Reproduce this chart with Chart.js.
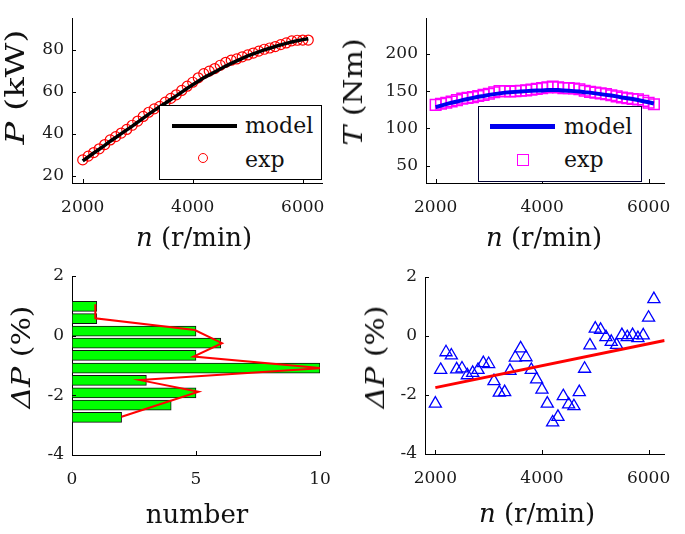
<!DOCTYPE html>
<html>
<head>
<meta charset="utf-8">
<script src="https://cdn.jsdelivr.net/npm/chart.js@4.4.0/dist/chart.umd.min.js"></script>
<style>
html, body { margin: 0; padding: 0; background: #fff; }
#wrap { position: relative; width: 685px; height: 534px; overflow: hidden; font-family: 'DejaVu Serif', serif; color: #111; }
#wrap canvas { position: absolute; left: 0; top: 0; }
.t { position: absolute; white-space: nowrap; font-size: 26px; line-height: 1; transform: translate(-50%, -50%); }
.ty { transform: translate(-50%, -50%) rotate(-90deg) scaleX(1.15); }
.leg { position: absolute; background: #fff; border: 1px solid #000; box-sizing: border-box; }
.lt { position: absolute; font-size: 22px; line-height: 1; transform: translateY(-50%); white-space: nowrap; }
</style>
</head>
<body>
<div id="wrap">
  <canvas id="cP" width="685" height="534"></canvas>
  <canvas id="cT" width="685" height="534"></canvas>
  <canvas id="cH" width="685" height="534"></canvas>
  <canvas id="cD" width="685" height="534"></canvas>

  <div class="t" style="left:194px; top:237px;"><i>n</i> (r/min)</div>
  <div class="t" style="left:544px; top:237px;"><i>n</i> (r/min)</div>
  <div class="t" style="left:197px; top:514px;">number</div>
  <div class="t" style="left:537px; top:513px;"><i>n</i> (r/min)</div>
  <div class="t ty" style="left:15px; top:87px; transform: translate(-50%, -50%) rotate(-90deg) scaleX(1.3);"><i>P</i> (kW)</div>
  <div class="t ty" style="left:353px; top:92px;"><i>T</i> (Nm)</div>
  <div class="t ty" style="left:21px; top:357px;"><i>ΔP</i> (%)</div>
  <div class="t ty" style="left:375px; top:357px;"><i>ΔP</i> (%)</div>

  <!-- legenda P -->
  <div class="leg" style="left:159px; top:105px; width:163px; height:75px;"></div>
  <div style="position:absolute; left:172px; top:124px; width:65px; height:4px; background:#000;"></div>
  <div class="lt" style="left:245px; top:126px;">model</div>
  <div style="position:absolute; left:198px; top:153px; width:8px; height:8px; border:1.2px solid #f00; border-radius:50%;"></div>
  <div class="lt" style="left:245px; top:160px;">exp</div>

  <!-- legenda T -->
  <div class="leg" style="left:478px; top:106px; width:164px; height:76px; border-color:#000033;"></div>
  <div style="position:absolute; left:490px; top:124px; width:65px; height:5px; background:#0000ee;"></div>
  <div class="lt" style="left:564px; top:127px;">model</div>
  <div style="position:absolute; left:517px; top:154px; width:10px; height:10px; border:1.5px solid #f0f;"></div>
  <div class="lt" style="left:564px; top:160px;">exp</div>
</div>

<script>
// rotação (r/min) dos pontos experimentais
const speedRpm = [2000, 2100, 2200, 2300, 2400, 2500, 2600, 2700, 2800, 2900,
                  3000, 3100, 3200, 3300, 3400, 3500, 3600, 3700, 3800, 3900,
                  4000, 4100, 4200, 4300, 4400, 4500, 4600, 4700, 4800, 4900,
                  5000, 5100, 5200, 5300, 5400, 5500, 5600, 5700, 5800, 5900,
                  6000, 6100];

// potência (kW)
const powerExp = [27.5, 29.3, 31.0, 32.8, 34.8, 37.0, 38.6, 40.3, 42.0, 44.0,
                  46.0, 48.2, 50.2, 51.8, 53.0, 55.0, 56.8, 58.5, 60.6, 62.6,
                  64.5, 66.6, 68.6, 69.8, 71.0, 72.6, 74.0, 75.0, 75.6, 76.6,
                  77.5, 78.4, 79.3, 80.2, 80.8, 81.5, 82.4, 83.2, 84.2, 84.5,
                  84.6, 84.6];
const powerModel = [27.0, 28.9, 30.8, 32.6, 34.4, 36.4, 38.2, 40.0, 41.8, 43.6,
                    45.5, 47.4, 49.3, 51.1, 52.8, 54.5, 56.3, 58.0, 59.8, 61.6,
                    63.3, 65.0, 66.6, 68.0, 69.4, 70.8, 72.2, 73.5, 74.7, 75.9,
                    77.0, 78.0, 79.0, 79.9, 80.7, 81.5, 82.3, 83.0, 83.7, 84.3,
                    84.8, 85.2];

// torque (Nm)
const torqueExp = [131.5, 133, 134.5, 136, 138, 140, 141, 142, 143.5, 145,
                   146.5, 148.5, 150, 150, 149.5, 150, 150.5, 151, 152, 153,
                   154, 155, 156, 155, 154, 154, 153.5, 152.5, 150.5, 149,
                   148, 147, 146, 144.5, 143, 141.5, 140.5, 139.5, 139, 137,
                   134.5, 132.5];
const torqueModel = [128.5, 130.5, 132.5, 134.5, 136, 138, 139.5, 141, 142.5, 143.5,
                     145, 146, 147, 148, 148.5, 149, 149.5, 150, 150.5, 151,
                     151, 151.5, 151.5, 151.5, 151, 150.5, 150, 149.5, 148.5, 148,
                     147, 146, 145, 144, 143, 141.5, 140.5, 139.5, 138, 136.5,
                     135, 133.5];

// erro relativo da potência (%)
const deltaP = [-2.29, -1.15, -0.55, -0.66, -1.13, -1.10, -1.33, -1.25, -1.15, -0.92,
                -0.95, -1.53, -1.92, -1.90, -1.18, -0.73, -0.42, -0.72, -1.15, -1.47,
                -1.82, -2.29, -2.93, -2.74, -2.04, -2.32, -2.38, -1.90, -1.11, -0.32,
                0.25, 0.21, -0.04, -0.20, -0.30, 0.03, -0.04, 0.03, -0.07, 0.02,
                0.62, 1.25];

// histograma do erro
const binCenters = [0.98, 0.57, 0.15, -0.25, -0.66, -1.09, -1.50, -1.92, -2.33, -2.74];
const binCounts = [1, 1, 5, 6, 5, 10, 3, 5, 4, 2];
const curveCounts = [0.94, 0.94, 4.95, 6.05, 4.9, 10.05, 2.75, 5.1, 2.0];
const curveVals = [1.05, 0.58, 0.19, -0.25, -0.70, -1.09, -1.49, -1.88, -2.72];

// reta de tendência do erro
const fitRpm = [2000, 6300];
const fitDelta = [-1.75, -0.15];

// rótulos dos eixos
const rpmTicks = [2000, 4000, 6000];
const powerTicks = [20, 40, 60, 80];
const torqueTicks = [50, 100, 150, 200];
const countTicks = [0, 5, 10];
const deltaTicks = [-4, -2, 0, 2];

const AX_W = 60, AX_H = 40;
const tickFont = { family: 'DejaVu Serif', size: 17 };

// monta pares {x, y}
function pts(xs, ys) {
    return xs.map((x, i) => ({ x: x, y: ys[i] }));
}

// posição da área do gráfico dentro do canvas
function pad(left, top, right, bottom) {
    return { left: left - AX_W, top: top, right: 685 - right, bottom: 534 - bottom - AX_H };
}

// marcas dos ticks para dentro (estilo MATLAB)
const inwardTicks = {
    id: 'inwardTicks',
    afterDraw(chart) {
        const ctx = chart.ctx, a = chart.chartArea;
        const xs = chart.scales.x, ys = chart.scales.y;
        ctx.save();
        ctx.strokeStyle = '#000';
        ctx.lineWidth = 1;
        xs.ticks.forEach(t => {
            const p = Math.round(xs.getPixelForValue(t.value)) + 0.5;
            ctx.beginPath(); ctx.moveTo(p, a.bottom); ctx.lineTo(p, a.bottom - 4); ctx.stroke();
        });
        ys.ticks.forEach(t => {
            const p = Math.round(ys.getPixelForValue(t.value)) + 0.5;
            ctx.beginPath(); ctx.moveTo(a.left, p); ctx.lineTo(a.left + 4, p); ctx.stroke();
        });
        ctx.restore();
    }
};

function axis(dir, min, max, ticks) {
    return {
        type: 'linear',
        min: min,
        max: max,
        offset: false,
        grid: { display: false, drawTicks: false, offset: false },
        border: { display: true, color: '#000', width: 1 },
        afterBuildTicks: s => { s.ticks = ticks.map(v => ({ value: v })); },
        afterFit: s => { if (dir === 'x') s.height = AX_H; else s.width = AX_W; },
        ticks: {
            font: tickFont,
            color: '#1a1a1a',
            padding: dir === 'x' ? 14 : 8,
            callback: v => String(v)
        }
    };
}

function baseOptions(padding, xs, ys) {
    return {
        responsive: false,
        animation: false,
        layout: { padding: padding },
        plugins: { legend: { display: false }, tooltip: { enabled: false } },
        scales: { x: xs, y: ys }
    };
}

// P x n
new Chart(document.getElementById('cP'), {
    type: 'scatter',
    data: {
        datasets: [
            { data: pts(speedRpm, powerModel), showLine: true, borderColor: '#000', borderWidth: 3.5, pointRadius: 0 },
            { data: pts(speedRpm, powerExp), pointStyle: 'circle', pointRadius: 5, borderColor: '#ff0000', backgroundColor: 'rgba(0,0,0,0)', borderWidth: 1.2 }
        ]
    },
    options: baseOptions(pad(72, 4, 322, 183), axis('x', 1805, 6350, rpmTicks), axis('y', 16.5, 95, powerTicks)),
    plugins: [inwardTicks]
});

// T x n
new Chart(document.getElementById('cT'), {
    type: 'scatter',
    data: {
        datasets: [
            { data: pts(speedRpm, torqueModel), showLine: true, borderColor: '#0000ee', borderWidth: 4, pointRadius: 0 },
            { data: pts(speedRpm, torqueExp), pointStyle: 'rect', pointRadius: 7.5, borderColor: '#ff00ff', backgroundColor: 'rgba(0,0,0,0)', borderWidth: 1.5 }
        ]
    },
    options: baseOptions(pad(426, 5, 673, 183), axis('x', 1819, 6290, rpmTicks), axis('y', 26.8, 247.8, torqueTicks)),
    plugins: [inwardTicks]
});

// histograma
const histOpts = baseOptions(pad(72, 276, 320, 455), axis('x', 0, 10, countTicks), axis('y', -4, 2, deltaTicks));
histOpts.indexAxis = 'y';
new Chart(document.getElementById('cH'), {
    type: 'bar',
    data: {
        datasets: [
            { type: 'line', data: pts(curveCounts, curveVals), borderColor: '#ff0000', borderWidth: 2, pointRadius: 0, fill: false },
            { data: pts(binCounts, binCenters), backgroundColor: '#00ff00', borderColor: '#111', borderWidth: 1, borderSkipped: false, barThickness: 10 }
        ]
    },
    options: histOpts,
    plugins: [inwardTicks]
});

// erro x n
new Chart(document.getElementById('cD'), {
    type: 'scatter',
    data: {
        datasets: [
            { data: pts(fitRpm, fitDelta), showLine: true, borderColor: '#ff0000', borderWidth: 3, pointRadius: 0 },
            { data: pts(speedRpm, deltaP), pointStyle: 'triangle', pointRadius: 7, borderColor: '#0000ff', backgroundColor: 'rgba(0,0,0,0)', borderWidth: 1.3 }
        ]
    },
    options: baseOptions(pad(425, 277, 673, 454), axis('x', 1806, 6303, rpmTicks), axis('y', -4, 2, deltaTicks)),
    plugins: [inwardTicks]
});
</script>
</body>
</html>
